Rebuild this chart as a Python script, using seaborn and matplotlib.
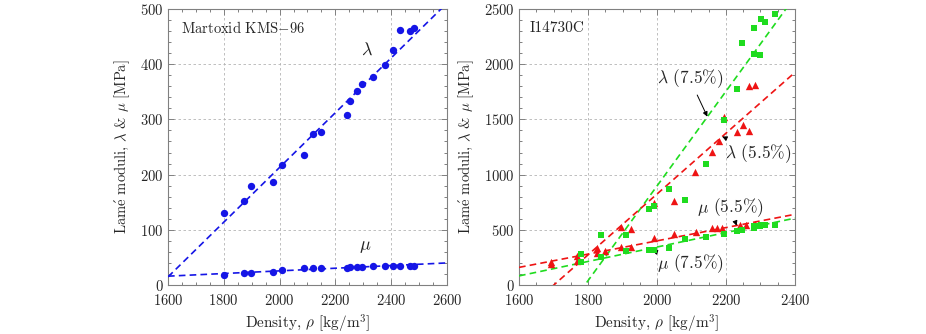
import numpy as np
import pandas as pd
import matplotlib
matplotlib.use('Agg')
import matplotlib.pyplot as plt
import seaborn as sns
from matplotlib.ticker import MultipleLocator

# left panel: Martoxid KMS-96
rho_kms = [1801, 1874, 1898, 1977, 2010, 2086, 2119, 2150, 2241, 2251,
           2277, 2296, 2334, 2378, 2406, 2432, 2468, 2481]
lam_kms = [130, 152, 180, 186, 217, 235, 273, 277, 308, 334,
           351, 365, 377, 398, 426, 462, 461, 466]
mu_kms = [19, 21, 22, 24, 27, 30, 30, 31, 31, 32,
          33, 33, 34, 34, 34, 34, 35, 35]
fit_lam_kms = (0.496, -779.0)   # slope, intercept
fit_mu_kms = (0.024, -22.4)

# right panel: I14730C, 7.5% and 5.5%
rho_75 = [1779, 1837, 1910, 1978, 1992, 2035, 2080, 2141, 2195, 2231,
          2246, 2282, 2282, 2299, 2301, 2314, 2341]
lam_75 = [281, 452, 449, 689, 716, 866, 772, 1093, 1491, 1777,
          2193, 2326, 2097, 2084, 2407, 2382, 2458]
mu_75 = [206, 251, 309, 313, 318, 336, 421, 434, 460, 492,
         496, 512, 530, 539, 545, 548, 546]

rho_lam_55 = [1692, 1767, 1825, 1896, 1924, 1992, 2050, 2110, 2160, 2179,
              2195, 2231, 2248, 2266, 2266, 2284]
lam_55 = [211, 262, 332, 527, 509, 740, 758, 1021, 1202, 1307,
          1518, 1382, 1446, 1397, 1801, 1810]
rho_mu_55 = [1692, 1767, 1825, 1849, 1896, 1924, 1990, 2050, 2113, 2159,
             2175, 2188, 2240, 2258, 2284]
mu_55 = [187, 218, 290, 311, 340, 348, 428, 460, 480, 512,
         514, 516, 548, 548, 554]

fit_lam_75 = (4.29, -7683.0)
fit_lam_55 = (2.755, -4686.0)
fit_mu_55 = (0.601, -802.0)
fit_mu_75 = (0.654, -964.0)

blue = '#1515e6'
green = '#1fdc1f'
red = '#ee1414'
frame = '#808080'

sns.set_style('ticks')
plt.rcParams['font.family'] = ['cmr10', 'DejaVu Serif']
plt.rcParams['mathtext.fontset'] = 'cm'
plt.rcParams['axes.formatter.use_mathtext'] = True
plt.rcParams['axes.unicode_minus'] = False

fig = plt.figure(figsize=(9.26, 3.34), dpi=100)
ax1 = fig.add_axes([0.1814, 0.1467, 0.3013, 0.8263])
ax2 = fig.add_axes([0.5605, 0.1467, 0.298, 0.8263])


def fit_line(ax, fit, xlim, color):
    xs = np.array(xlim, dtype=float)
    df = pd.DataFrame({'x': xs, 'y': fit[0] * xs + fit[1]})
    sns.lineplot(data=df, x='x', y='y', ax=ax, color=color, lw=1.2,
                 linestyle=(0, (4, 2.5)), zorder=3)


def style_axes(ax, xlim, ylim, xmaj, xmin, ymaj, ymin):
    ax.set_xlim(xlim)
    ax.set_ylim(ylim)
    ax.xaxis.set_major_locator(MultipleLocator(xmaj))
    ax.xaxis.set_minor_locator(MultipleLocator(xmin))
    ax.yaxis.set_major_locator(MultipleLocator(ymaj))
    ax.yaxis.set_minor_locator(MultipleLocator(ymin))
    ax.tick_params(which='both', direction='in', top=True, right=True,
                   color=frame, labelsize=10.5, width=0.7)
    ax.tick_params(axis='x', pad=6)
    ax.tick_params(axis='y', pad=3)
    ax.tick_params(which='major', length=4)
    ax.tick_params(which='minor', length=2)
    for s in ax.spines.values():
        s.set_color(frame)
        s.set_linewidth(0.8)
    ax.grid(True, which='major', color='#b4b4b4', lw=0.6, linestyle=(0, (3, 3)))
    ax.set_axisbelow(True)
    ax.set_xlabel(r'Density, $\rho$ [kg/m$^3$]', fontsize=11, labelpad=3)
    ax.set_ylabel(r'Lam$\acute{\mathrm{e}}$ moduli, $\lambda$ & $\mu$ [MPa]', fontsize=10.5,
                  labelpad=6)


# left panel
kms = pd.DataFrame({'rho': rho_kms, 'lam': lam_kms, 'mu': mu_kms})
fit_line(ax1, fit_lam_kms, (1600, 2600), blue)
fit_line(ax1, fit_mu_kms, (1600, 2600), blue)
sns.scatterplot(data=kms, x='rho', y='lam', ax=ax1, color=blue, marker='o',
                s=28, linewidth=0, zorder=4)
sns.scatterplot(data=kms, x='rho', y='mu', ax=ax1, color=blue, marker='o',
                s=28, linewidth=0, zorder=4)
style_axes(ax1, (1600, 2600), (0, 500), 200, 50, 100, 20)
ax1.text(1645, 466, r'Martoxid KMS$-$96', fontsize=10.5, va='center')
ax1.text(2313, 426, r'$\lambda$', fontsize=13, ha='center', va='center')
ax1.text(2307, 68, r'$\mu$', fontsize=13, ha='center', va='center')

# right panel
d75 = pd.DataFrame({'rho': rho_75, 'lam': lam_75, 'mu': mu_75})
dl55 = pd.DataFrame({'rho': rho_lam_55, 'lam': lam_55})
dm55 = pd.DataFrame({'rho': rho_mu_55, 'mu': mu_55})
for f, c in [(fit_lam_75, green), (fit_lam_55, red), (fit_mu_55, red), (fit_mu_75, green)]:
    fit_line(ax2, f, (1600, 2400), c)
sns.scatterplot(data=dl55, x='rho', y='lam', ax=ax2, color=red, marker='^',
                s=28, linewidth=0, zorder=4)
sns.scatterplot(data=dm55, x='rho', y='mu', ax=ax2, color=red, marker='^',
                s=28, linewidth=0, zorder=4)
sns.scatterplot(data=d75, x='rho', y='lam', ax=ax2, color=green, marker='s',
                s=25, linewidth=0, zorder=5)
sns.scatterplot(data=d75, x='rho', y='mu', ax=ax2, color=green, marker='s',
                s=25, linewidth=0, zorder=5)
style_axes(ax2, (1600, 2400), (0, 2500), 200, 50, 500, 100)
ax2.text(1630, 2328, 'I14730C', fontsize=11, va='center')

arrow = dict(arrowstyle='-|>', color='k', lw=0.7, mutation_scale=7, shrinkA=1, shrinkB=0)
ax2.annotate(r'$\lambda$ (7.5%)', xy=(2146, 1525), xytext=(2095, 1865),
             ha='center', va='center', fontsize=12.5, arrowprops=arrow)
ax2.annotate(r'$\lambda$ (5.5%)', xy=(2189, 1345), xytext=(2294, 1194),
             ha='center', va='center', fontsize=12.5, arrowprops=arrow)
ax2.annotate(r'$\mu$ (5.5%)', xy=(2231, 537), xytext=(2212, 705),
             ha='center', va='center', fontsize=12.5, arrowprops=arrow)
ax2.annotate(r'$\mu$ (7.5%)', xy=(1987, 311), xytext=(2096, 190),
             ha='center', va='center', fontsize=12.5, arrowprops=arrow)

fig.savefig('out.png', dpi=100)
